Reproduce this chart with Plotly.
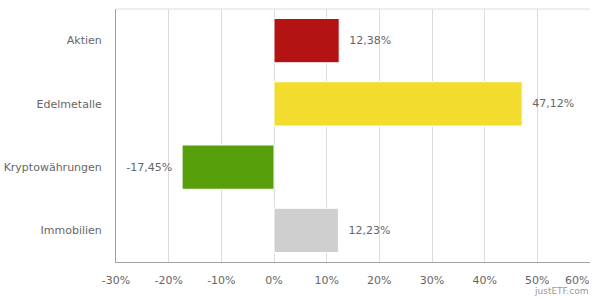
import plotly.graph_objects as go

categories = ["Aktien", "Edelmetalle", "Kryptowährungen", "Immobilien"]
values = [12.38, 47.12, -17.45, 12.23]
colors = ["#b31313", "#f2dc2e", "#579f0a", "#cfcfd0"]
tick_vals = [-30, -20, -10, 0, 10, 20, 30, 40, 50, 60]
tick_text = ["-30%", "-20%", "-10%", "0%", "10%", "20%", "30%", "40%", "50%", "60%"]

pad = "\u00a0\u00a0"
labels = []
for v in values:
    s = f"{v:.2f}".replace(".", ",") + "%"
    labels.append(pad + s if v >= 0 else s + pad)

fig = go.Figure()
fig.add_trace(go.Bar(
    x=values, y=categories, orientation="h",
    marker=dict(color=colors, line=dict(color="#ffffff", width=1)),
    width=0.7,
    text=labels, textposition="outside", cliponaxis=False,
    textfont=dict(family="DejaVu Sans", size=11, color="#666666"),
    hoverinfo="skip",
))

# last tick label is drawn right-aligned at the plot edge (as in the reference)
shown_text = tick_text[:-1] + [""]

fig.update_layout(
    width=600, height=300,
    margin=dict(l=116, r=10, t=9, b=38),
    paper_bgcolor="white", plot_bgcolor="white",
    showlegend=False,
    font=dict(family="DejaVu Sans", size=11, color="#666666"),
)
fig.update_xaxes(
    range=[-30, 60.001], tickvals=tick_vals, ticktext=shown_text,
    showgrid=True, gridcolor="#dcdcdc", gridwidth=1,
    zeroline=False,
    showline=True, linecolor="#a0a0a0", linewidth=1,
    ticks="", ticklabelstandoff=8, automargin=False,
    ticklabeloverflow="allow",
    tickfont=dict(family="DejaVu Sans", size=11, color="#666666"),
    fixedrange=True,
)
fig.update_yaxes(
    categoryorder="array", categoryarray=categories[::-1],
    showgrid=False, zeroline=False,
    showline=True, linecolor="#a0a0a0", linewidth=1,
    ticks="", ticklabelstandoff=11, automargin=False,
    ticklabeloverflow="allow",
    tickfont=dict(family="DejaVu Sans", size=11, color="#666666"),
    fixedrange=True,
)
fig.add_annotation(text=tick_text[-1], xref="x", yref="paper", x=tick_vals[-1], y=0,
                   xanchor="right", yanchor="top", yshift=-10, xshift=1, showarrow=False,
                   font=dict(family="DejaVu Sans", size=11, color="#666666"))
fig.add_shape(type="line", xref="paper", yref="paper", x0=0, x1=1, y0=1, y1=1,
              line=dict(color="#dcdcdc", width=1))
fig.add_annotation(text="justETF.com", xref="paper", yref="paper", x=1, y=0,
                   xanchor="right", yanchor="top", yshift=-22, showarrow=False,
                   font=dict(family="DejaVu Sans", size=9, color="#999999"))

fig.write_html("out.html")
